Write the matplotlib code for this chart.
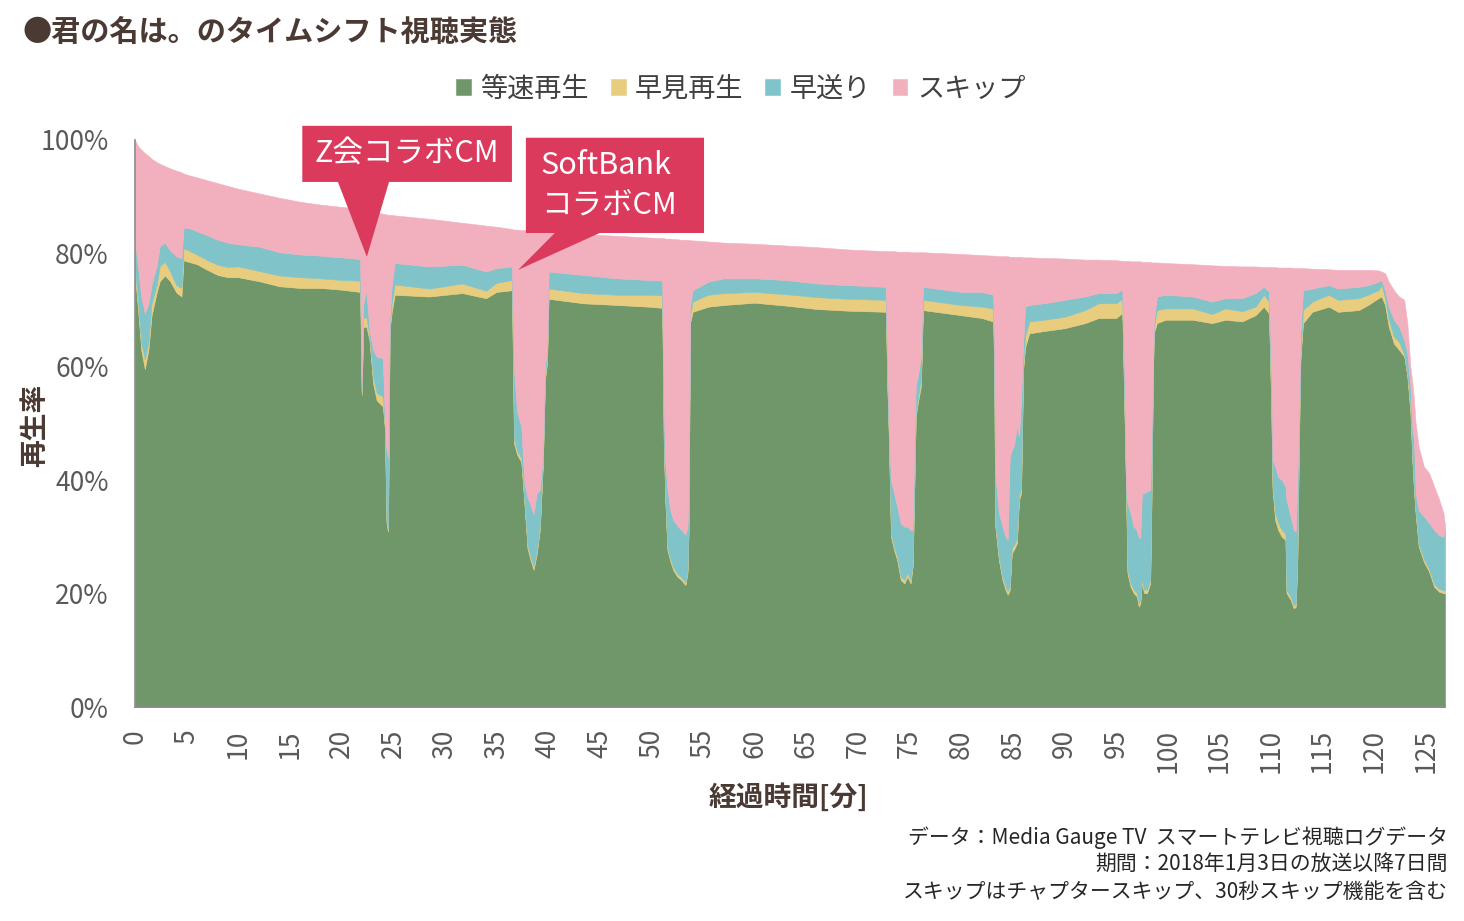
import matplotlib
matplotlib.use("Agg")
import matplotlib.pyplot as plt
from matplotlib.patches import Polygon

plt.rcParams["font.family"] = ["Noto Sans CJK JP", "DejaVu Sans"]

TITLE = "●君の名は。のタイムシフト視聴実態"
SERIES = ["等速再生", "早見再生", "早送り", "スキップ"]
COLORS = ["#70976A", "#E9CD7E", "#80C3C8", "#F2B0BE"]
NOTES = [
    "データ：Media Gauge TV  スマートテレビ視聴ログデータ",
    "期間：2018年1月3日の放送以降7日間",
    "スキップはチャプタースキップ、30秒スキップ機能を含む",
]

# elapsed minutes
minutes = [
    0.0, 0.3, 0.6, 0.95, 1.3, 1.6, 2.1, 2.4, 2.9, 3.4, 4.0, 4.5, 4.7, 5.2, 6.0,
    7.0, 8.0, 9.0, 10.0, 12.0, 14.0, 16.0, 18.0, 20.0, 21.8,
    21.95, 22.1, 22.4, 22.7, 23.05, 23.4, 24.0, 24.2, 24.35, 24.5, 24.66, 24.85,
    25.15, 28.5, 31.7, 34.0, 35.0, 36.5,
    36.7, 37.0, 37.4, 37.7, 38.0, 38.3, 38.6, 38.9, 39.2, 39.5, 39.7, 39.9,
    40.05, 43.4, 46.7, 49.8, 51.05,
    51.2, 51.35, 51.55, 51.8, 52.1, 52.5, 52.9, 53.3, 53.5, 53.6, 53.75, 54.0,
    55.5, 57.0, 60.0, 63.0, 66.0, 69.0, 72.7,
    72.85, 73.0, 73.2, 73.5, 73.8, 74.15, 74.5, 74.8, 75.1, 75.3, 75.4, 75.6,
    75.85, 76.1, 76.3, 80.0, 82.0, 83.1,
    83.2, 83.3, 83.65, 84.0, 84.3, 84.5, 84.7, 84.9, 85.1, 85.4, 85.6, 85.8,
    86.0, 86.2, 86.6, 88.0, 90.0, 92.0, 93.3, 95.0, 95.6,
    95.84, 95.97, 96.1, 96.4, 96.7, 97.0, 97.2, 97.35, 97.5, 97.7, 98.0, 98.3,
    98.4, 98.55, 98.65, 98.95, 99.8, 102.4, 104.3, 105.6, 107.2, 108.5, 109.3, 109.8,
    110.03, 110.15, 110.4, 110.7, 111.05, 111.4, 111.5, 111.9, 112.2, 112.4,
    112.55, 112.7, 112.85, 113.1, 114.0, 115.6, 116.5, 118.5, 119.4, 120.4, 120.7,
    121.05, 121.4, 121.9, 122.4, 122.9, 123.2, 123.5, 123.7, 123.85, 124.0,
    124.3, 124.8, 125.3, 125.8, 126.3, 126.7, 126.85,
]

# 等速再生 (%)
normal = [
    76.0, 70.0, 63.0, 59.6, 63.0, 69.0, 73.1, 75.1, 76.1, 75.1, 73.1, 72.4, 78.8, 78.5, 78.1,
    77.1, 76.2, 75.8, 75.8, 75.1, 74.2, 73.9, 73.9, 73.6, 73.2,
    55.0, 67.0, 67.1, 64.7, 57.1, 54.1, 53.0, 48.9, 32.5, 30.9, 66.5, 69.5,
    72.7, 72.4, 73.0, 72.1, 73.2, 73.5,
    46.5, 44.5, 43.2, 36.0, 28.0, 25.9, 24.2, 27.0, 31.2, 43.0, 57.7, 60.6,
    72.0, 71.2, 70.9, 70.6, 70.4,
    46.5, 36.5, 27.7, 25.9, 24.2, 23.0, 22.4, 21.5, 23.6, 30.6, 67.7, 69.7,
    70.6, 70.9, 71.3, 70.8, 70.2, 69.9, 69.7,
    56.5, 47.0, 30.0, 27.7, 25.9, 22.4, 21.8, 23.0, 21.8, 24.7, 33.0, 51.2,
    54.1, 56.5, 70.0, 69.1, 68.6, 68.0,
    58.8, 31.8, 25.9, 22.4, 20.6, 19.8, 20.6, 27.1, 27.7, 28.9, 36.5, 37.7,
    59.4, 63.5, 65.9, 66.3, 66.8, 67.7, 68.6, 68.6, 69.5,
    49.4, 37.7, 23.6, 21.2, 20.1, 19.5, 17.7, 18.3, 22.0, 20.1, 20.1, 21.8,
    33.0, 55.3, 65.9, 67.7, 68.3, 68.3, 67.7, 68.3, 68.0, 69.1, 70.6, 69.4,
    52.4, 38.3, 33.0, 31.2, 30.0, 29.5, 20.1, 18.9, 17.4, 17.7,
    25.9, 45.9, 61.2, 67.7, 69.7, 70.6, 69.7, 70.0, 70.9, 72.1, 72.4,
    70.9, 67.1, 64.1, 63.0, 61.8, 58.3, 51.8, 43.0, 38.1, 34.2,
    28.3, 25.6, 23.9, 21.2, 20.3, 20.1, 20.0,
]

# 早見再生 (%)
fast = [
    1.0, 1.3, 1.3, 1.7, 1.3, 2.1, 1.3, 2.7, 2.4, 1.7, 1.3, 1.5, 2.1, 2.0, 1.7,
    1.7, 1.8, 1.8, 1.9, 1.8, 1.9, 1.9, 1.7, 1.7, 2.0,
    0.8, 1.5, 1.7, 0.6, 1.2, 1.3, 1.7, 0.6, 0.5, 0.6, 0.5, 1.5,
    1.8, 1.4, 1.7, 1.3, 1.6, 1.8,
    0.8, 0.7, 0.7, 0.6, 0.6, 0.6, 0.6, 0.6, 0.6, 0.6, 0.8, 0.9,
    1.8, 1.8, 1.8, 2.1, 2.2,
    0.5, 0.5, 0.5, 0.5, 0.5, 0.5, 0.5, 0.5, 0.5, 0.5, 1.3, 1.8,
    2.1, 2.1, 1.9, 2.0, 2.1, 2.1, 2.1,
    0.7, 0.7, 0.6, 0.6, 0.6, 0.6, 0.6, 0.6, 0.6, 0.6, 0.6, 0.6,
    0.9, 1.0, 1.8, 1.8, 2.0, 2.3,
    0.7, 0.6, 0.6, 0.6, 0.6, 0.6, 0.6, 0.8, 0.8, 0.8, 0.8, 0.8,
    0.8, 2.0, 2.1, 2.0, 2.0, 2.3, 2.6, 2.6, 2.5,
    0.6, 0.6, 0.6, 0.6, 0.6, 0.6, 0.6, 0.6, 0.6, 0.6, 0.6, 0.6,
    0.6, 0.7, 0.9, 2.3, 2.0, 2.0, 1.6, 2.0, 1.8, 1.5, 2.1, 2.1,
    0.7, 0.7, 1.2, 1.2, 1.2, 1.0, 0.5, 0.5, 0.5, 0.5,
    0.5, 0.6, 0.8, 2.3, 1.8, 2.1, 2.1, 2.1, 1.8, 1.4, 2.0,
    1.2, 1.2, 1.2, 1.4, 0.3, 0.5, 1.2, 0.5, 0.4, 0.4,
    0.4, 0.5, 0.5, 0.5, 0.5, 0.5, 0.5,
]

# 早送り (%)
forward = [
    5.0, 6.2, 8.1, 8.1, 6.8, 3.3, 3.4, 3.5, 3.4, 3.7, 5.1, 5.2, 3.6, 4.0, 4.1,
    4.4, 4.4, 4.3, 3.9, 4.3, 4.1, 4.0, 4.0, 4.0, 3.8,
    1.2, 2.5, 4.7, 1.2, 4.7, 6.4, 6.8, 0.3, 12.5, 12.5, 1.0, 3.0,
    3.8, 3.9, 3.3, 3.4, 2.6, 2.4,
    12.1, 6.8, 5.6, 2.9, 8.4, 9.0, 9.2, 10.1, 6.5, 0.9, 2.0, 0.9,
    3.0, 3.2, 2.9, 2.6, 2.6,
    5.7, 6.0, 10.3, 8.6, 8.3, 8.5, 8.3, 8.4, 7.7, 6.0, 1.5, 2.0,
    2.3, 2.6, 2.4, 2.5, 2.4, 2.4, 2.3,
    4.6, 0.8, 9.4, 9.4, 8.8, 9.4, 9.4, 8.2, 8.8, 5.9, 6.4, 4.7,
    3.8, 4.3, 2.3, 2.3, 2.6, 2.4,
    4.6, 8.8, 7.7, 8.8, 8.8, 9.1, 22.8, 17.4, 17.5, 19.7, 10.4, 15.6,
    3.9, 5.1, 2.9, 2.9, 3.0, 2.4, 1.8, 1.8, 1.6,
    5.3, 0.3, 11.8, 12.4, 11.1, 11.1, 11.5, 11.0, 15.1, 17.0, 17.3, 15.9,
    12.3, 1.0, 0.7, 2.4, 2.4, 2.1, 2.2, 1.8, 2.3, 2.4, 1.4, 1.7,
    5.7, 4.6, 8.2, 8.2, 8.8, 8.4, 15.9, 14.2, 13.3, 12.7,
    13.6, 2.9, 3.9, 3.5, 2.3, 1.7, 2.0, 2.0, 1.7, 1.5, 0.9,
    1.4, 2.3, 3.0, 2.7, 2.6, 3.6, 3.5, 5.4, 8.6, 3.1,
    6.0, 7.5, 8.1, 9.5, 9.5, 9.4, 11.0,
]

# スキップ (%)
skip = [
    18.0, 21.4, 25.9, 28.3, 26.1, 22.3, 18.3, 14.5, 13.5, 14.5, 15.1, 15.2, 9.6, 9.3, 9.5,
    9.7, 10.0, 10.0, 9.8, 9.4, 9.6, 9.3, 9.0, 8.9, 8.9,
    30.8, 16.7, 14.1, 21.0, 24.4, 25.4, 25.5, 37.1, 41.4, 42.8, 18.8, 12.8,
    8.4, 8.4, 7.4, 8.1, 7.3, 6.6,
    24.8, 32.2, 34.6, 44.6, 47.1, 48.5, 50.0, 46.3, 45.6, 39.4, 23.4, 21.4,
    7.0, 7.2, 7.5, 7.5, 7.5,
    30.0, 39.6, 44.1, 47.6, 49.5, 50.5, 51.2, 52.0, 50.6, 45.3, 11.8, 8.8,
    7.1, 6.3, 6.1, 6.1, 6.4, 6.3, 6.3,
    18.6, 31.9, 40.4, 42.7, 45.0, 47.9, 48.5, 48.5, 49.0, 49.0, 40.2, 23.7,
    21.4, 18.4, 6.1, 6.7, 6.5, 6.9,
    15.5, 38.4, 45.3, 47.7, 49.5, 50.0, 35.4, 34.1, 33.4, 30.0, 31.7, 25.3,
    15.2, 8.7, 8.4, 8.0, 7.3, 6.5, 5.9, 5.8, 5.1,
    23.4, 40.1, 42.7, 44.4, 46.8, 47.4, 48.8, 48.7, 40.8, 40.8, 40.5, 40.2,
    32.5, 21.4, 10.9, 6.0, 5.6, 5.7, 6.4, 5.7, 5.6, 4.7, 3.5, 4.4,
    18.8, 34.0, 35.2, 36.9, 37.5, 38.6, 41.0, 43.9, 46.2, 46.5,
    37.4, 28.0, 11.5, 3.9, 3.5, 2.8, 3.3, 3.0, 2.7, 2.0, 1.5,
    3.0, 4.4, 5.2, 5.3, 7.1, 5.3, 3.5, 8.1, 7.0, 12.4,
    11.2, 8.8, 8.8, 7.7, 6.2, 4.2, 0.5,
]

# callouts: (label, box x0, x1, y0, y1, pointer base x0, x1, tip x, tip y)
callouts = [
    ("Z会コラボCM", 16.2, 36.5, 92.6, 102.5, 19.65, 24.6, 22.45, 79.4),
    ("SoftBank\nコラボCM", 37.85, 55.1, 83.6, 100.4, 40.65, 45.0, 37.1, 77.1),
]

TEXT_DARK = "#4a3a33"
TICK_COLOR = "#595959"
CALLOUT = "#DC3A5C"

fig = plt.figure(figsize=(14.64, 9.21), dpi=100)
ax = fig.add_axes([135 / 1464, 1 - 707 / 921, 1310 / 1464, 567 / 921])

polys = ax.stackplot(minutes, normal, fast, forward, skip,
                     colors=COLORS, labels=SERIES, linewidth=0)
for p in polys:
    p.set_edgecolor(p.get_facecolor())
    p.set_linewidth(0.4)

ax.set_xlim(0, 126.85)
ax.set_ylim(0, 100)
ax.set_xticks(range(0, 126, 5))
ax.set_xticklabels([str(v) for v in range(0, 126, 5)])
ax.set_yticks(range(0, 101, 20))
ax.set_yticklabels([f"{v}%" for v in range(0, 101, 20)])
ax.tick_params(axis="x", length=0, pad=16, labelrotation=90,
               labelsize=19, labelcolor=TICK_COLOR)
ax.tick_params(axis="y", length=0, pad=19, labelsize=19, labelcolor=TICK_COLOR)
for side in ["top", "right"]:
    ax.spines[side].set_visible(False)
for side in ["left", "bottom"]:
    ax.spines[side].set_color("#8c8c8c")
    ax.spines[side].set_linewidth(1.2)
    ax.spines[side].set_zorder(5)

for label, bx0, bx1, by0, by1, px0, px1, tx, ty in callouts:
    shape = [(bx0, by0), (px0, by0), (tx, ty), (px1, by0), (bx1, by0),
             (bx1, by1), (bx0, by1)]
    ax.add_patch(Polygon(shape, closed=True, facecolor=CALLOUT,
                         edgecolor="none", clip_on=False, zorder=6))
    if "\n" in label:
        ax.text(bx0 + 1.45, (by0 + by1) / 2, label, ha="left", va="center",
                fontsize=22, color="white", linespacing=1.35, zorder=7)
    else:
        ax.text((bx0 + bx1) / 2, (by0 + by1) / 2, label, ha="center",
                va="center", fontsize=22, color="white", zorder=7)

fig.text(22 / 1464, 1 - 32 / 921, TITLE, ha="left", va="center",
         fontsize=21, fontweight="bold", color=TEXT_DARK)

fig.legend(loc="center", bbox_to_anchor=(0.506, 1 - 89 / 921), ncol=4,
           frameon=False, fontsize=19.5, handlelength=0.55, handleheight=0.55,
           handletextpad=0.35, columnspacing=0.8, labelcolor="#404040")

fig.text(788 / 1464, 1 - 797 / 921, "経過時間[分]", ha="center", va="center",
         fontsize=20, fontweight="bold", color=TEXT_DARK)
fig.text(35 / 1464, 1 - 425 / 921, "再生率", ha="center", va="center",
         rotation=90, fontsize=20, fontweight="bold", color=TEXT_DARK)

for i, note in enumerate(NOTES):
    fig.text(1448 / 1464, 1 - (838 + 27 * i) / 921, note, ha="right",
             va="center", fontsize=15, color="#262626")

fig.savefig("out.png", dpi=100)
